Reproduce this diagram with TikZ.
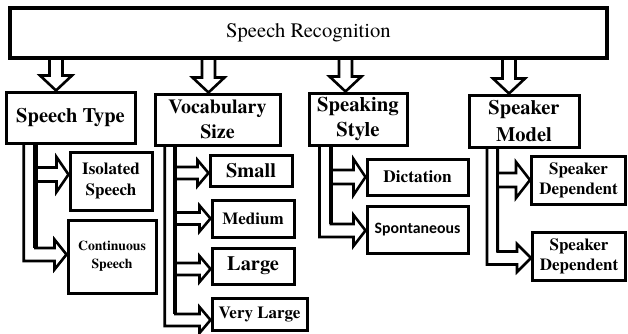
\documentclass[tikz,border=0pt]{standalone}
\usepackage{fontspec}
\setmainfont{texgyretermes}[Extension=.otf, UprightFont=*-regular, BoldFont=*-bold, ItalicFont=*-italic, BoldItalicFont=*-bolditalic]
\newfontfamily\carlito{Carlito}
\usetikzlibrary{calc,backgrounds}
\tikzset{
  box/.style={draw, line width=3pt, fill=white, inner sep=0pt, align=center},
  pipe/.style={draw, line width=2.6pt, fill=white, line join=miter},
}
% down arrow: x, top node, child node
\newcommand\downarr[3]{%
  \draw[pipe] let \p1=(#2.south), \p2=(#3.north) in
   ({#1pt-6.5pt},{\y1+3pt}) -- ({#1pt-6.5pt},{\y2+15pt}) -- ({#1pt-16pt},{\y2+15pt})
   -- ({#1pt},{\y2}) -- ({#1pt+16pt},{\y2+15pt}) -- ({#1pt+6.5pt},{\y2+15pt}) -- ({#1pt+6.5pt},{\y1+3pt});
}
% outer L: parent, child, xa, xb, dy, h, H, len
\newcommand\outerL[8]{%
  \draw[pipe] let \p1=(#1.south), \p2=(#2.west) in
   ({#3pt},{\y1+3pt}) -- ({#3pt},{\y2+(#5pt)-#6pt}) -- ({\x2-#8pt},{\y2+(#5pt)-#6pt})
   -- ({\x2-#8pt},{\y2+(#5pt)-#7pt}) -- ({\x2},{\y2+(#5pt)}) -- ({\x2-#8pt},{\y2+(#5pt)+#7pt})
   -- ({\x2-#8pt},{\y2+(#5pt)+#6pt}) -- ({#4pt},{\y2+(#5pt)+#6pt}) -- ({#4pt},{\y1+3pt});
}
% inner branch: child, xb, dy, h, H, len
\newcommand\innerB[6]{%
  \draw[pipe] let \p2=(#1.west) in
   ({#2pt},{\y2+(#3pt)+#4pt}) -- ({\x2-#6pt},{\y2+(#3pt)+#4pt}) -- ({\x2-#6pt},{\y2+(#3pt)+#5pt})
   -- ({\x2},{\y2+(#3pt)}) -- ({\x2-#6pt},{\y2+(#3pt)-#5pt}) -- ({\x2-#6pt},{\y2+(#3pt)-#4pt})
   -- ({#2pt},{\y2+(#3pt)-#4pt});
}
% band: parent, last child, xb, width, dy+h of last child
\newcommand\bandline[5]{%
  \draw[line width=#4pt] let \p1=(#1.south), \p2=(#2.west) in
   ({#3pt},{\y1+3pt}) -- ({#3pt},{\y2+(#5pt)});
}
\begin{document}
\begin{tikzpicture}[x=1pt,y=1pt]
\useasboundingbox (0,0) rectangle (628,-333);
% boxes
\node[box, line width=3.5pt, minimum width=597pt, minimum height=50pt,
  font=\fontsize{20.6}{24}\selectfont] (top) at (308.5,-33) {Speech Recognition};
\node[box, minimum width=129pt, minimum height=51pt,
  font=\fontsize{20.5}{24}\selectfont\bfseries] (st) at (70.5,-117.5) {Speech Type};
\node[box, minimum width=82pt, minimum height=58pt,
  font=\fontsize{17}{21}\selectfont\bfseries] (iso) at (111,-181) {Isolated\\Speech};
\node[box, minimum width=88pt, minimum height=73pt,
  font=\fontsize{13.7}{18}\selectfont\bfseries] (cont) at (112,-256.5) {Continuous\\Speech};
\node[box, minimum width=125pt, minimum height=51pt,
  font=\fontsize{20}{25}\selectfont\bfseries] (vs) at (217.5,-119.5) {Vocabulary\\Size};
\node[box, minimum width=82pt, minimum height=31pt,
  font=\fontsize{20.4}{24}\selectfont\bfseries] (small) at (251,-170.5) {Small};
\node[box, minimum width=82pt, minimum height=37pt,
  font=\fontsize{17}{20}\selectfont\bfseries] (medium) at (253,-218.5) {Medium};
\node[box, minimum width=82pt, minimum height=36pt,
  font=\fontsize{20.4}{24}\selectfont\bfseries] (large) at (253,-266) {Large};
\node[box, minimum width=95pt, minimum height=32pt,
  font=\fontsize{17}{20}\selectfont\bfseries] (vlarge) at (259.5,-314) {Very Large};
\node[box, minimum width=98pt, minimum height=52pt,
  font=\fontsize{20.7}{25}\selectfont\bfseries] (ss) at (358,-119) {Speaking\\Style};
\node[box, minimum width=101pt, minimum height=36pt,
  font=\fontsize{17.3}{20}\selectfont\bfseries] (dict) at (417.5,-177) {Dictation};
\node[box, minimum width=101pt, minimum height=47pt,
  font=\fontsize{15.8}{18}\selectfont\carlito\bfseries] (spont) at (417.5,-229.5) {Spontaneous};
\node[box, minimum width=110pt, minimum height=52pt,
  font=\fontsize{20.5}{27}\selectfont\bfseries] (sm) at (524,-121) {Speaker\\Model};
\node[box, minimum width=94pt, minimum height=48pt,
  font=\fontsize{17}{20}\selectfont\bfseries] (sd1) at (578.5,-180) {Speaker\\Dependent};
\node[box, minimum width=93pt, minimum height=48pt,
  font=\fontsize{17}{20}\selectfont\bfseries] (sd2) at (579,-256) {Speaker\\Dependent};
\begin{pgfonlayer}{background}
  % down arrows
  \downarr{56}{top}{st}
  \downarr{208.5}{top}{vs}
  \downarr{345.5}{top}{ss}
  \downarr{509}{top}{sm}
  % Speech Type
  \outerL{st}{cont}{23.7}{35.5}{2}{6.5}{15}{12}
  \innerB{iso}{35.5}{6.5}{7}{17.5}{12}
  \bandline{st}{cont}{35.5}{4.5}{8.5}
  % Vocabulary
  \outerL{vs}{vlarge}{164.7}{175.3}{-6}{6}{13}{11}
  \innerB{small}{175.3}{-2.5}{6}{13}{11}
  \innerB{medium}{175.3}{0}{6}{13}{11}
  \innerB{large}{175.3}{-3}{6}{13}{11}
  \bandline{vs}{vlarge}{175.3}{4}{0}
  % Speaking Style
  \outerL{ss}{spont}{319.5}{331}{-1}{6.5}{15.5}{12}
  \innerB{dict}{331}{0}{7}{18}{12}
  \bandline{ss}{spont}{331}{4}{5.5}
  % Speaker Model
  \outerL{sm}{sd2}{487}{497.7}{-2}{6.5}{14}{14}
  \innerB{sd1}{497.7}{0}{7}{18}{14}
  \bandline{sm}{sd2}{497.7}{3.3}{4.5}
\end{pgfonlayer}
\end{tikzpicture}
\end{document}
